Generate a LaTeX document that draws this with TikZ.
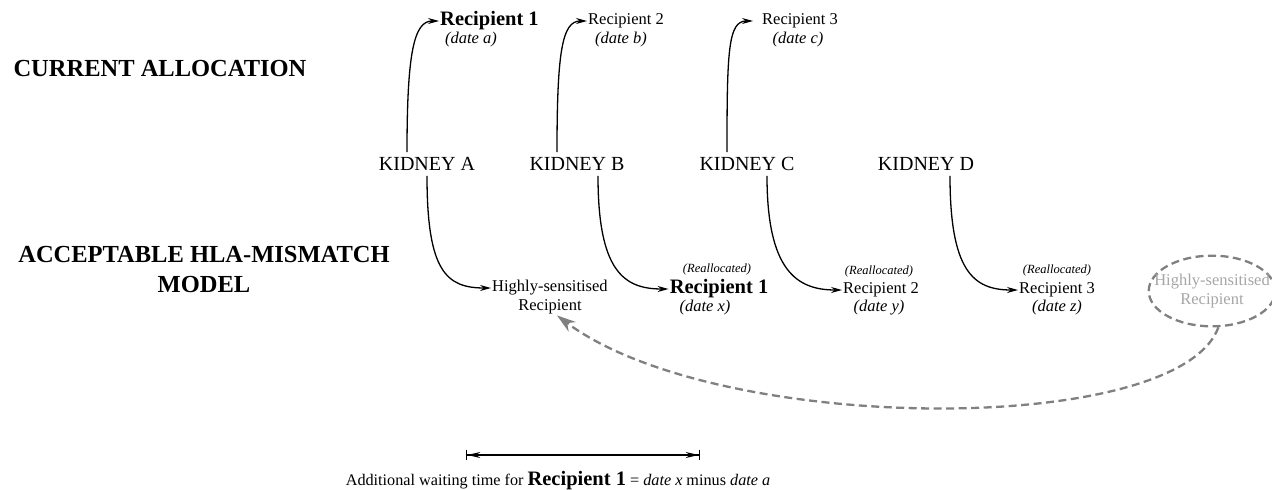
\documentclass[tikz,border=0pt]{standalone}
\usepackage{fontspec}
\setmainfont{Liberation Serif}
\usetikzlibrary{shapes.geometric}
\usepgflibrary{arrows.meta}

\begin{document}
\begin{tikzpicture}[x=1pt,y=-1pt,
	kidney/.style={font=\fontsize{20}{24}\selectfont, inner sep=5pt},
	recip/.style={font=\fontsize{16.5}{19}\selectfont, inner sep=1pt},
	recipbold/.style={font=\fontsize{20.5}{24}\selectfont\bfseries, inner sep=1pt},
	datelabel/.style={font=\fontsize{16.5}{19}\selectfont\itshape, inner sep=1pt},
	realloc/.style={font=\fontsize{12.5}{14}\selectfont\itshape, inner sep=1pt},
	heading/.style={font=\fontsize{24.5}{30}\selectfont\bfseries, align=center},
	alloc/.style={line width=1.3pt, -{Stealth[length=11pt,width=6pt]}},
	offer/.style={draw=gray, line width=2.3pt, dash pattern=on 8pt off 4.5pt, -{Stealth[length=19pt,width=12pt]}}]

		\useasboundingbox (0,0) rectangle (1272,490);

		% headings
		\node[heading, anchor=west] (cur) at (10,69) {CURRENT ALLOCATION};
		\node[heading] (ahm) at (204,270) {ACCEPTABLE HLA-MISMATCH\\MODEL};

		% kidneys
		\node[kidney] (kA) at (427,164) {KIDNEY A};
		\node[kidney] (kB) at (577,164) {KIDNEY B};
		\node[kidney] (kC) at (747,164) {KIDNEY C};
		\node[kidney] (kD) at (926,164) {KIDNEY D};

		% current allocation
		\node[recipbold, anchor=west] (topA) at (439,21) {Recipient 1};
		\node[datelabel] (dateA) at (471,40) {(date a)};
		\node[recip, anchor=west] (topB) at (587,21) {Recipient 2};
		\node[datelabel] (dateB) at (621,40) {(date b)};
		\node[recip, anchor=west] (topC) at (761,21) {Recipient 3};
		\node[datelabel] (dateC) at (798,40) {(date c)};

		\draw[alloc] ([xshift=-20]kA.north) .. controls +(0,-100) and +(-25,0) .. (topA.west);
		\draw[alloc] ([xshift=-20]kB.north) .. controls +(0,-100) and +(-25,0) .. (topB.west);
		\draw[alloc] ([xshift=-20]kC.north) .. controls +(0,-100) and +(-25,0) .. ([xshift=-8]topC.west);

		% acceptable mismatch model
		\node[recip, anchor=west] (hsA) at (491,288) {Highly-sensitised};
		\node[recip] (hsB) at (550,307) {Recipient};
		\node[realloc] (tagB) at (717,269) {(Reallocated)};
		\node[recipbold] (reB) at (719,289) {Recipient 1};
		\node[datelabel] (dateX) at (705,308) {(date x)};
		\node[realloc] (tagC) at (879,271) {(Reallocated)};
		\node[recip] (reC) at (881,290) {Recipient 2};
		\node[datelabel] (dateY) at (879,308) {(date y)};
		\node[realloc] (tagD) at (1057,270) {(Reallocated)};
		\node[recip] (reD) at (1057,290) {Recipient 3};
		\node[datelabel] (dateZ) at (1057,308) {(date z)};

		\draw[alloc] (kA.south) .. controls +(0,95) and +(-45,0) .. (hsA.west);
		\draw[alloc] ([xshift=21]kB.south) .. controls +(0,95) and +(-45,0) .. (reB.west);
		\draw[alloc] ([xshift=20]kC.south) .. controls +(0,95) and +(-45,0) .. (reC.west);
		\draw[alloc] ([xshift=24]kD.south) .. controls +(0,95) and +(-45,0) .. (reD.west);

		\node[ellipse, draw=gray, line width=2.3pt, dash pattern=on 8pt off 4.5pt, text=black!35,
			font=\fontsize{16.5}{19}\selectfont, align=center, inner xsep=-13pt, inner ysep=8pt]
			(hsE) at (1212,291) {Highly-sensitised\\Recipient};
		\draw[offer] (hsE.-80) .. controls +(-40,110) and +(160,120) .. ([xshift=7]hsB.south);

		% waiting time
		\coordinate (waitL) at (466,455);
		\coordinate (waitR) at (700,455);
		\draw[line width=1.3pt, {Bar[width=10pt]Stealth[length=13pt,width=6pt]}-{Stealth[length=13pt,width=6pt]Bar[width=10pt]}] (waitL) -- (waitR);
		\node[recip, font=\fontsize{16.2}{19}\selectfont] (waitnote) at (558,481) {Additional waiting time for {\fontsize{20.5}{24}\selectfont\bfseries Recipient 1} = \textit{date x} minus \textit{date a}};

	\end{tikzpicture}
\end{document}
